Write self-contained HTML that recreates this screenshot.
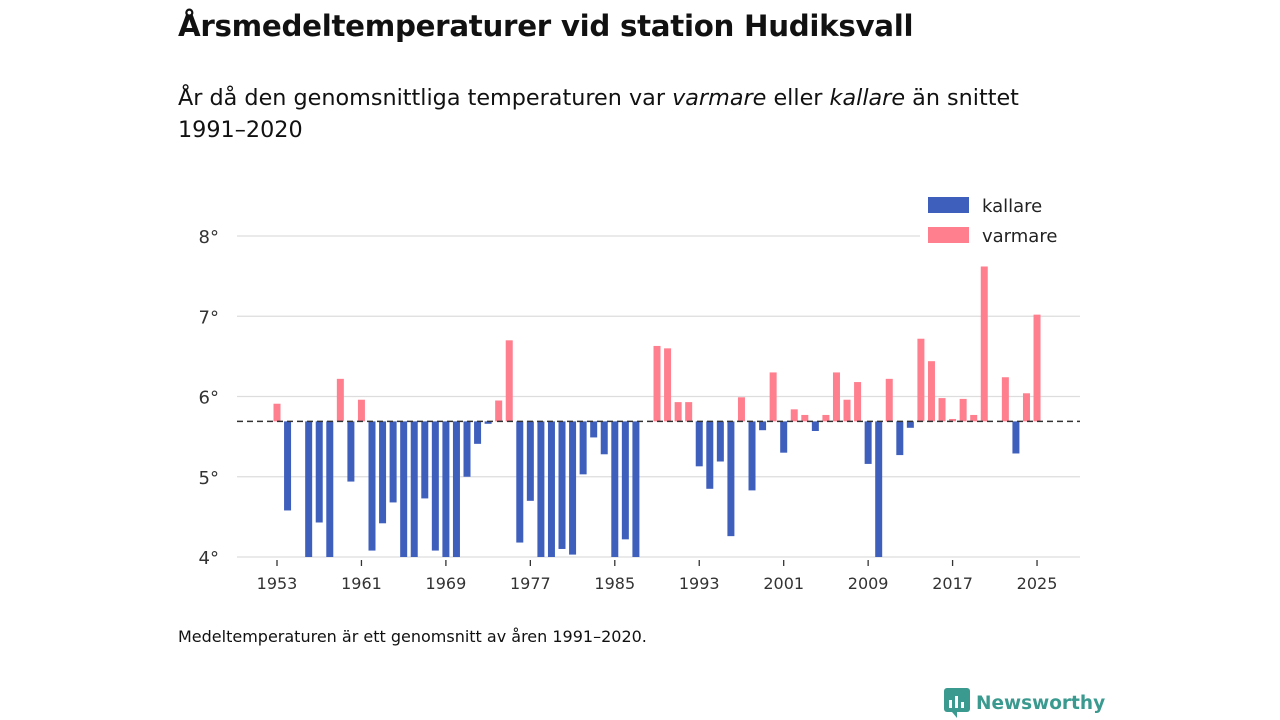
<!DOCTYPE html>
<html><head><meta charset="utf-8"><style>
body{margin:0;width:1280px;height:720px;background:#fff;font-family:"DejaVu Sans","Liberation Sans",sans-serif;color:#111;position:relative;overflow:hidden}
h1{position:absolute;left:178px;top:9px;margin:0;font-size:29.3px;font-weight:bold;letter-spacing:-0.3px}
.sub{position:absolute;left:178px;top:82px;font-size:22.3px;line-height:32px;width:870px}
.note{position:absolute;left:178px;top:627px;font-size:16px}
.logo{position:absolute;left:944px;top:688px;font-size:18.5px;font-weight:bold;color:#3a9a8f;display:flex;align-items:center;gap:6px}
svg{position:absolute;left:0;top:0}
svg text{font-family:"DejaVu Sans","Liberation Sans",sans-serif}
</style></head><body>
<h1>Årsmedeltemperaturer vid station Hudiksvall</h1>
<div class="sub">År då den genomsnittliga temperaturen var <i>varmare</i> eller <i>kallare</i> än snittet 1991–2020</div>
<svg id="chart" width="1280" height="720"></svg>
<div class="note">Medeltemperaturen är ett genomsnitt av åren 1991–2020.</div>
<div class="logo"><svg style="position:static" width="26" height="30" viewBox="0 0 26 30"><rect x="0" y="0" width="26" height="24" rx="3" fill="#3a9a8f"/><path d="M8 24 L13 30 L13 24Z" fill="#3a9a8f"/><rect x="5" y="12" width="3" height="8" fill="#fff"/><rect x="11" y="8" width="3" height="12" fill="#fff"/><rect x="17" y="14" width="3" height="6" fill="#fff"/></svg>Newsworthy</div>
<script>
const years=[1953,1954,1956,1957,1958,1959,1960,1961,1962,1963,1964,1965,1966,1967,1968,1969,1970,1971,1972,1973,1974,1975,1976,1977,1978,1979,1980,1981,1982,1983,1984,1985,1986,1987,1989,1990,1991,1992,1993,1994,1995,1996,1997,1998,1999,2000,2001,2002,2003,2004,2005,2006,2007,2008,2009,2010,2011,2012,2013,2014,2015,2016,2017,2018,2019,2020,2022,2023,2024,2025];
const temps=[5.91,4.58,3.9,4.43,3.9,6.22,4.94,5.96,4.08,4.42,4.68,3.9,3.9,4.73,4.08,3.9,3.9,5.0,5.41,5.66,5.95,6.70,4.18,4.70,3.9,3.9,4.10,4.03,5.03,5.49,5.28,3.9,4.22,3.9,6.63,6.60,5.93,5.93,5.13,4.85,5.19,4.26,5.99,4.83,5.58,6.30,5.30,5.84,5.77,5.57,5.77,6.30,5.96,6.18,5.16,3.9,6.22,5.27,5.61,6.72,6.44,5.98,5.72,5.97,5.77,7.62,6.24,5.29,6.04,7.02];
const baseline=5.69;
const yTicks=[4,5,6,7,8];
const xTicks=[1953,1961,1969,1977,1985,1993,2001,2009,2017,2025];
const NS="http://www.w3.org/2000/svg";
const svg=document.getElementById('chart');
const X=y=>277+(y-1953)*10.556;
const Y=v=>557-(Math.max(v,4)-4)*80.25;
function mk(t,a){const e=document.createElementNS(NS,t);for(const k in a)e.setAttribute(k,a[k]);svg.appendChild(e);return e;}
yTicks.forEach(v=>{
 const l=mk('line',{x1:237,x2:1080,y1:Y(v),y2:Y(v),stroke:'#ddd','stroke-width':1.3});
 
 
 const t=mk('text',{x:219,y:Y(v)+7,'text-anchor':'end','font-size':18,fill:'#333'});
 t.textContent=v+'°';
 
 
});
xTicks.forEach(y=>{
 const l=mk('line',{x1:X(y),x2:X(y),y1:560,y2:566,stroke:'#333','stroke-width':1.3});
 
 
 const t=mk('text',{x:X(y),y:589,'text-anchor':'middle','font-size':16,fill:'#333'});
 t.textContent=y;
 
 
});
years.forEach((yr,i)=>{
 const v=temps[i],y0=Y(baseline),y1=Y(v);
 const r=mk('rect',{x:X(yr)-3.5,width:7,y:Math.min(y0,y1),height:Math.abs(y1-y0),fill:v>=baseline?'#ff7f8e':'#3f5fbd'});
 
 
});
const b=mk('line',{x1:237,x2:1080,y1:Y(baseline),y2:Y(baseline),stroke:'#333','stroke-width':1.6,'stroke-dasharray':'6,4'});


const lg=mk('rect',{x:920,y:190,width:160,height:62,fill:'#fff'});


[['kallare','#3f5fbd',205],['varmare','#ff7f8e',235]].forEach(([n,c,y])=>{
 const r=mk('rect',{x:928,y:y-8,width:41,height:16,fill:c});
 
 
 const t=mk('text',{x:982,y:y+7,'font-size':18,fill:'#222'});
 t.textContent=n;
 
 
});
</script>
</body></html>
